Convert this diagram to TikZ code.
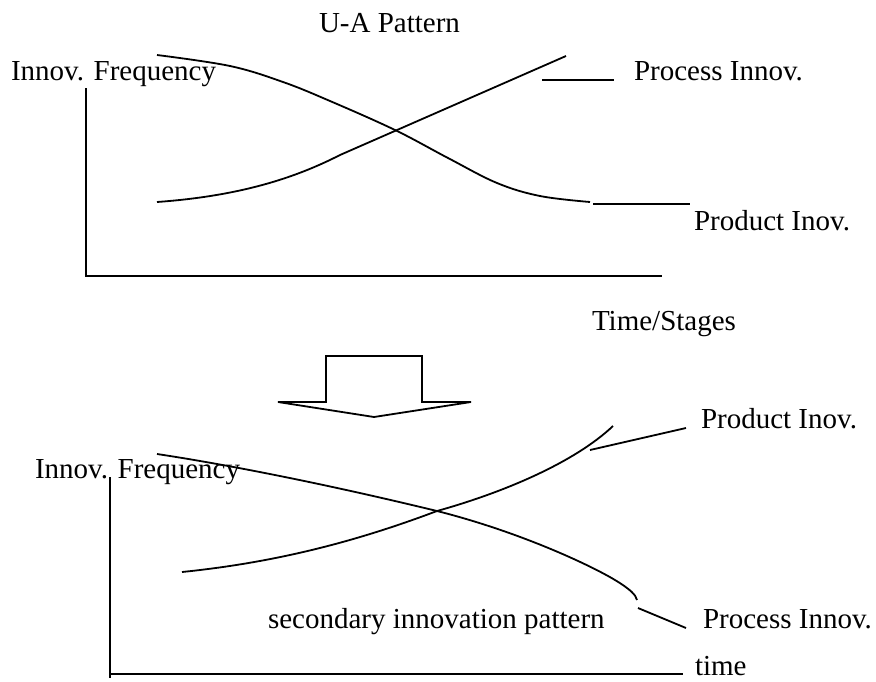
\documentclass[tikz,border=0pt]{standalone}
\usepackage{fontspec}
\setmainfont{Liberation Serif}
\begin{document}
\begin{tikzpicture}[x=1pt,y=-1pt,
  lbl/.style={anchor=base west,inner sep=0pt,outer sep=0pt,font=\fontsize{29}{34}\selectfont},
  ln/.style={line width=1.8pt,line join=miter},
  crv/.style={ln,smooth,tension=0.6}]
\useasboundingbox (0,0) rectangle (876,681);
% ---------- top chart ----------
\node[lbl] (title) at (319,32) {U-A Pattern};
\node[lbl] (yl1) at (11,80) {Innov. Frequency};
\node[lbl] (proc1) at (634,80) {Process Innov.};
\node[lbl] (prod1) at (694,230) {Product Inov.};
\node[lbl] (xl1) at (592,330) {Time/Stages};
\coordinate (o1) at (86,276);
\coordinate (ytop1) at (86,88);
\coordinate (xend1) at (662,276);
\draw[ln] (ytop1) -- (o1) -- (xend1);
% decreasing curve (product)
\draw[crv] plot coordinates {(157,55) (230,66) (283,82) (330,101) (395,130) (448,158) (497,183) (540,196) (590,202)};
% increasing curve (process)
\draw[ln] (157,202) .. controls (240,196) and (295,178) .. (340,155) -- (566,56);
% leader lines
\coordinate (pl1a) at (542,80); \coordinate (pl1b) at (614,80);
\draw[ln] (pl1a) -- (pl1b);
\coordinate (dl1a) at (593,204); \coordinate (dl1b) at (690,204);
\draw[ln] (dl1a) -- (dl1b);
% ---------- block arrow ----------
\draw[ln] (326,402) -- (326,356) -- (422,356) -- (422,402) -- (471,402) -- (374,417) -- (278,402) -- cycle;
% ---------- bottom chart ----------
\node[lbl] (yl2) at (35,478) {Innov. Frequency};
\node[lbl] (prod2) at (701,428) {Product Inov.};
\node[lbl] (proc2) at (703,628) {Process Innov.};
\node[lbl] (note) at (268,628) {secondary innovation pattern};
\node[lbl] (xl2) at (695,675) {time};
\coordinate (o2) at (110,674);
\coordinate (ytop2) at (110,477);
\coordinate (xend2) at (683,674);
\draw[ln] (ytop2) -- (110,678);
\draw[ln] (o2) -- (xend2);
% decreasing curve (process)
\draw[ln] (157,454) .. controls (230,465) and (330,485) .. (437,511)
  .. controls (520,532) and (590,565) .. (615,580)
  .. controls (630,589) and (636,595) .. (637,600);
% increasing curve (product)
\draw[ln] (182,572) .. controls (280,562) and (360,540) .. (437,511)
  .. controls (505,492) and (575,462) .. (613,426);
% leader lines
\coordinate (pl2a) at (590,450); \coordinate (pl2b) at (686,428);
\draw[ln] (pl2a) -- (pl2b);
\coordinate (dl2a) at (638,608); \coordinate (dl2b) at (686,628);
\draw[ln] (dl2a) -- (dl2b);
\end{tikzpicture}
\end{document}
